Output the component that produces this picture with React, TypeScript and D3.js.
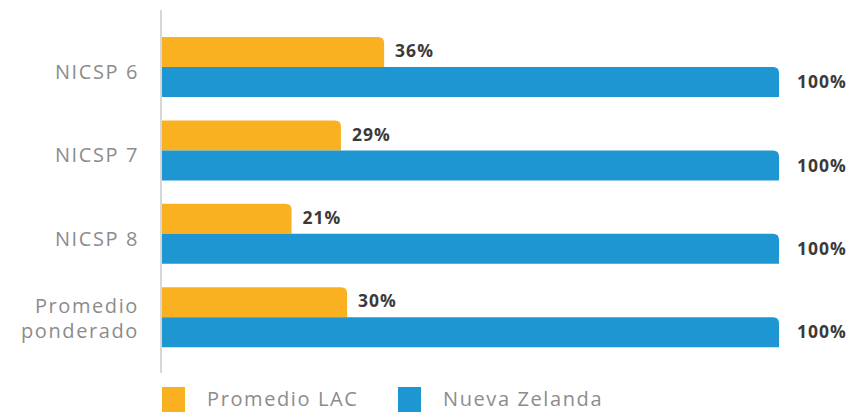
import React from "react";
import * as d3 from "d3";

const categories: string[][] = [["NICSP 6"], ["NICSP 7"], ["NICSP 8"], ["Promedio", "ponderado"]];
const lacValues = [36, 29, 21, 30];
const nzValues = [100, 100, 100, 100];
const seriesNames = ["Promedio LAC", "Nueva Zelanda"];
const colors = ["#F9B122", "#1E96D1"];

function topRightRoundedRect(x: number, y: number, w: number, h: number, r: number) {
  const rr = Math.min(r, w, h);
  return `M${x},${y}H${x + w - rr}Q${x + w},${y} ${x + w},${y + rr}V${y + h}H${x}Z`;
}

export default function App() {
  const W = 855, H = 414;
  const x = d3.scaleLinear().domain([0, 100]).range([162, 779]);
  const barH = 30;
  const catFont = "'Open Sans', sans-serif";
  const valFont = "'Open Sans', sans-serif";
  return (
    <svg width={W} height={H} style={{ position: "absolute", left: 0, top: 0 }}>
      <rect width={W} height={H} fill="#fff" />
      <line x1={161} x2={161} y1={10} y2={373} stroke="#bdbdbd" strokeWidth={1.2} />
      {categories.map((cat, i) => {
        const c = 37 + i * 83.4 + barH;
        const yo = c - barH;
        return (
          <g key={i}>
            <path d={topRightRoundedRect(x(0), yo, x(lacValues[i]) - x(0), barH, 6)} fill={colors[0]} />
            <path d={topRightRoundedRect(x(0), c, x(nzValues[i]) - x(0), barH, 6)} fill={colors[1]} />
            <text x={x(lacValues[i]) + 11} y={yo + 14} dy="0.35em" fontFamily={valFont} fontWeight={700} fontSize={17.5} letterSpacing={1} fill="#3a3a3a">
              {lacValues[i]}%
            </text>
            <text x={x(nzValues[i]) + 18} y={c + 15} dy="0.35em" fontFamily={valFont} fontWeight={700} fontSize={17.5} letterSpacing={1} fill="#3a3a3a">
              {nzValues[i]}%
            </text>
            {cat.length === 1 ? (
              <text x={139} y={c + 5} dy="0.35em" textAnchor="end" fontFamily={catFont} fontSize={20} letterSpacing={1.6} fill="#8c8c8c">
                {cat[0]}
              </text>
            ) : (
              cat.map((t, j) => (
                <text key={j} x={139} y={c - 11 + j * 25} dy="0.35em" textAnchor="end" fontFamily={catFont} fontSize={20} letterSpacing={1.6} fill="#8c8c8c">
                  {t}
                </text>
              ))
            )}
          </g>
        );
      })}
      {seriesNames.map((s, i) => {
        const lx = i === 0 ? 162 : 398;
        return (
          <g key={s}>
            <rect x={lx} y={387} width={23} height={25} fill={colors[i]} />
            <text x={lx + 45} y={399} dy="0.35em" fontFamily={catFont} fontSize={20} letterSpacing={1.6} fill="#8c8c8c">
              {s}
            </text>
          </g>
        );
      })}
    </svg>
  );
}
